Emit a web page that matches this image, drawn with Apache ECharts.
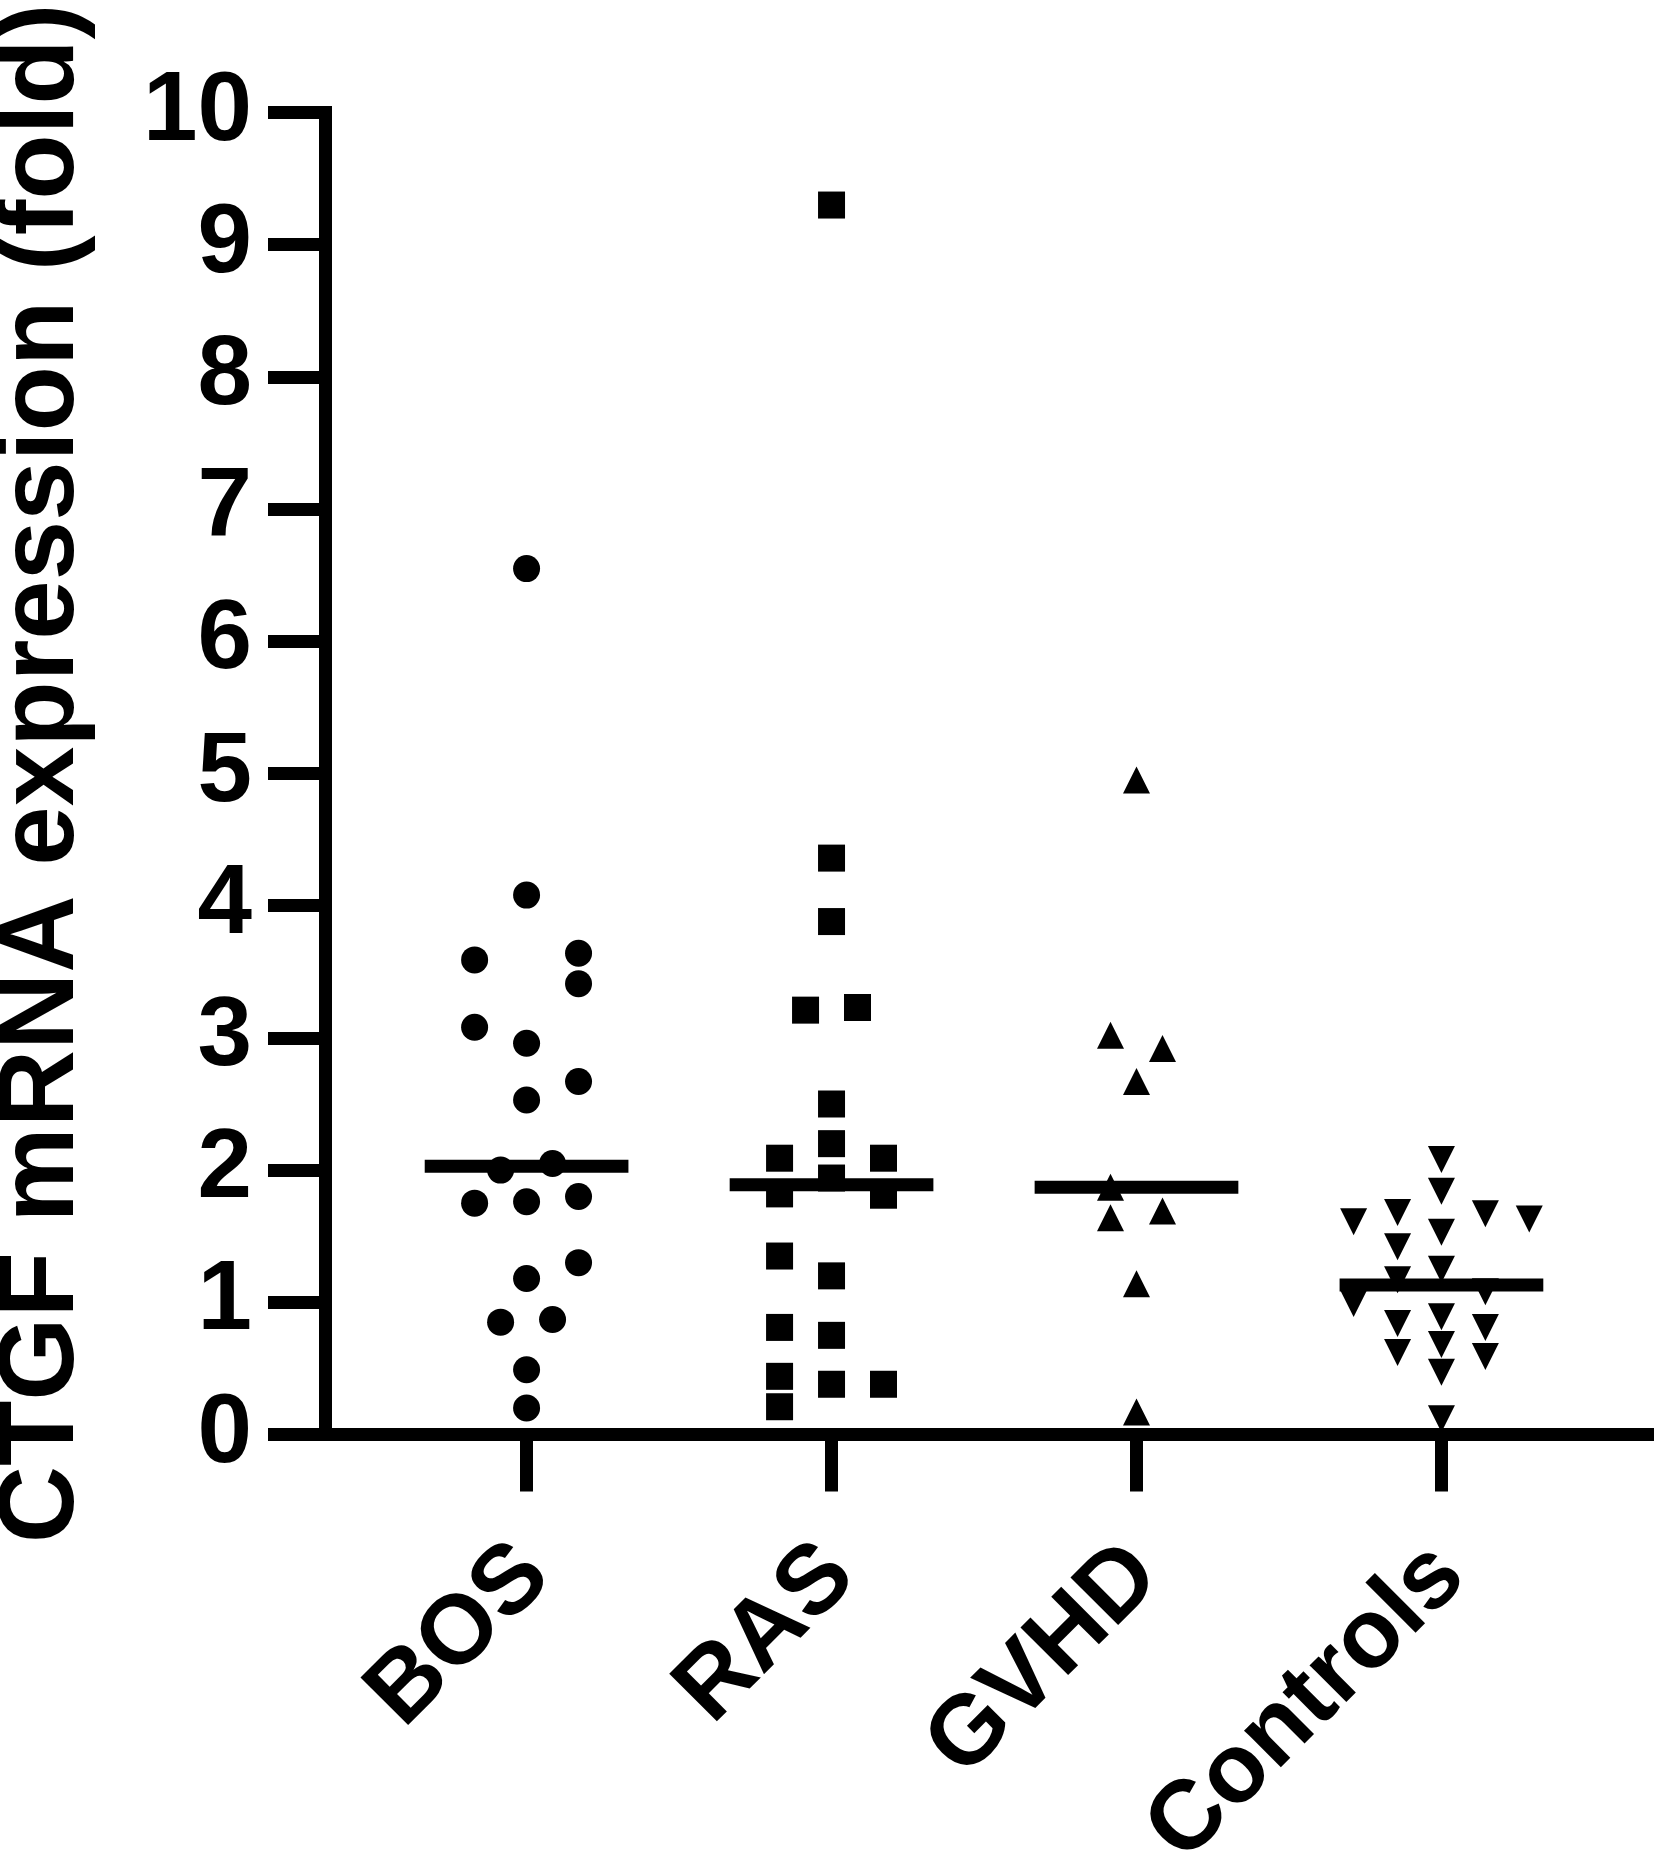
<!DOCTYPE html>
<html><head><meta charset="utf-8">
<script src="https://cdn.jsdelivr.net/npm/echarts@6/dist/echarts.min.js"></script>
<style>html,body{margin:0;padding:0;background:#fff}#c{width:1654px;height:1855px}</style>
</head><body><div id="c"></div>
<script>
// ---------- data ----------
const categories = ['BOS', 'RAS', 'GVHD', 'Controls'];
const yTickValues = [0, 1, 2, 3, 4, 5, 6, 7, 8, 9, 10];
const yAxisTitle = 'CTGF mRNA expression (fold)';

const bosValues = [6.55, 4.08, 3.59, 3.64, 3.41, 3.08, 2.96, 2.67, 2.53, 2.00, 2.05, 1.75, 1.76, 1.80, 1.30, 1.18, 0.85, 0.87, 0.49, 0.20];
const bosSlots  = [0, 0, -2, 2, 2, -2, 0, 2, 0, -1, 1, -2, 0, 2, 2, 0, -1, 1, 0, 0];

const rasValues = [9.30, 4.36, 3.88, 3.21, 3.23, 2.50, 2.20, 2.09, 2.09, 1.94, 1.82, 1.81, 1.35, 1.20, 0.81, 0.75, 0.44, 0.38, 0.38, 0.21];
const rasSlots  = [0, 0, 0, -1, 1, 0, 0, -2, 2, 0, -2, 2, -2, 0, -2, 0, -2, 0, 2, -2];

const gvhdValues = [4.95, 3.02, 2.92, 2.67, 1.87, 1.64, 1.69, 1.14, 0.17];
const gvhdSlots  = [0, -1, 1, 0, -1, -1, 1, 0, 0];

const controlsValues = [2.08, 1.84, 1.68, 1.61, 1.67, 1.63, 1.53, 1.42, 1.25, 1.17, 0.99, 1.08, 0.89, 0.84, 0.81, 0.62, 0.68, 0.59, 0.47, 0.12];
const controlsSlots  = [0, 0, -1, -2, 1, 2, 0, -1, 0, -1, -2, 1, 0, -1, 1, -1, 0, 1, 0, 0];

const medians = [2.03, 1.89, 1.87, 1.13];

// ---------- layout / style ----------
const FONT = "'Liberation Sans', Arial, Helvetica, sans-serif";
const X_MIN = 0.339, X_MAX = 4.697;
const MEDIAN_HALF = 0.334;
const LABEL_SHIFT = 0.026;
const LW = 13;

const groups = [
  { values: bosValues, slots: bosSlots, slotW: 0.0852, symbol: 'circle', rotate: 0 },
  { values: rasValues, slots: rasSlots, slotW: 0.0852, symbol: 'rect', rotate: 0 },
  { values: gvhdValues, slots: gvhdSlots, slotW: 0.0852, symbol: 'triangle', rotate: 0 },
  { values: controlsValues, slots: controlsSlots, slotW: 0.144, symbol: 'triangle', rotate: 180 }
];

const series = [];
groups.forEach((g, i) => {
  series.push({
    name: categories[i],
    type: 'scatter',
    symbol: g.symbol,
    symbolRotate: g.rotate,
    symbolSize: 27,
    itemStyle: { color: '#000', opacity: 1 },
    silent: true,
    z: 3,
    data: g.values.map((v, k) => [i + 1 + g.slots[k] * g.slotW, v])
  });
});
medians.forEach((m, i) => {
  series.push({
    type: 'line',
    symbol: 'none',
    silent: true,
    z: 4,
    lineStyle: { color: '#000', width: LW, cap: 'butt', opacity: 1 },
    data: [[i + 1 - MEDIAN_HALF, m], [i + 1 + MEDIAN_HALF, m]]
  });
});

const chart = echarts.init(document.getElementById('c'), null, { renderer: 'canvas' });
chart.setOption({
  animation: false,
  backgroundColor: '#fff',
  grid: { left: 325, right: 0, top: 112.5, bottom: 420.5, containLabel: false, outerBoundsMode: 'none' },
  xAxis: {
    type: 'value',
    min: X_MIN,
    max: X_MAX,
    splitLine: { show: false },
    axisLine: { show: true, lineStyle: { color: '#000', width: LW, cap: 'square' } },
    axisTick: { show: true, customValues: [1, 2, 3, 4], length: 57, lineStyle: { color: '#000', width: LW } },
    axisLabel: {
      show: true,
      customValues: categories.map((c, i) => i + 1 + LABEL_SHIFT),
      formatter: v => categories[Math.round(v) - 1],
      rotate: 45,
      margin: 126,
      color: '#000',
      fontSize: 98,
      fontWeight: 'bold',
      fontFamily: FONT
    }
  },
  yAxis: {
    type: 'value',
    min: 0,
    max: 10,
    interval: 1,
    name: yAxisTitle,
    nameLocation: 'middle',
    nameGap: 228,
    nameRotate: 90,
    nameTextStyle: { color: '#000', fontSize: 107, fontWeight: 'bold', fontFamily: FONT },
    splitLine: { show: false },
    axisLine: { show: true, lineStyle: { color: '#000', width: LW, cap: 'square' } },
    axisTick: { show: true, length: 57, lineStyle: { color: '#000', width: LW } },
    axisLabel: {
      margin: 73,
      color: '#000',
      fontSize: 98,
      fontWeight: 'bold',
      fontFamily: FONT,
      formatter: v => (yTickValues.includes(v) ? String(v) : '')
    }
  },
  series: series
});
</script></body></html>
